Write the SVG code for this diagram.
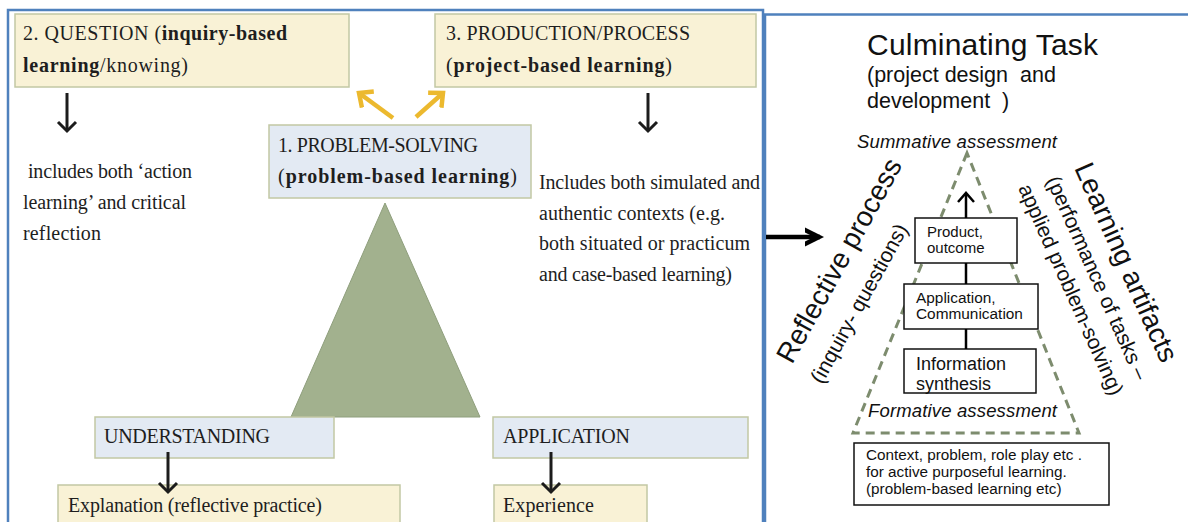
<svg xmlns="http://www.w3.org/2000/svg" width="1188" height="522" viewBox="0 0 1188 522">
<style>
.panel{fill:none;stroke:#4f81bd;stroke-width:2.5}
.cream{fill:#f9f2d6;stroke:#c2c8a4;stroke-width:1.5}
.blue{fill:#e3eaf3;stroke:#c2c8a4;stroke-width:1.5}
.serif{font-family:"Liberation Serif","DejaVu Serif",serif;font-size:20px;fill:#1e1e1e}
.b{font-weight:bold}
.sans{font-family:"Liberation Sans",Arial,sans-serif;fill:#111}
.wbox{fill:#fff;stroke:#111;stroke-width:1.5}
.blk{stroke:#1c1c1c;stroke-width:3;fill:none}
.yel{stroke:#ecb92e;stroke-width:4.5;fill:none}
</style>
<defs>
<marker id="hb" markerUnits="userSpaceOnUse" markerWidth="24" markerHeight="24" refX="12" refY="12" orient="auto">
<path d="M3,3 L12,12 L3,21" fill="none" stroke="#1c1c1c" stroke-width="3"/>
</marker>
<marker id="hy" markerUnits="userSpaceOnUse" markerWidth="24" markerHeight="24" refX="12" refY="12" orient="auto">
<path d="M1,2 L12,12 L1,22" fill="none" stroke="#ecb92e" stroke-width="4.5"/>
</marker>
<marker id="hbig" markerUnits="userSpaceOnUse" markerWidth="30" markerHeight="30" refX="15" refY="15" orient="auto">
<path d="M-8,4 L14,15 L-8,26" fill="none" stroke="#000" stroke-width="4.5"/>
</marker>
<marker id="hs" markerUnits="userSpaceOnUse" markerWidth="20" markerHeight="20" refX="10" refY="10" orient="auto">
<path d="M1,2 L10,10 L1,18" fill="none" stroke="#000" stroke-width="2.5"/>
</marker>
</defs>

<g id="panels">
<rect class="panel" x="8" y="10" width="755" height="530"/>
<rect class="panel" x="765" y="14.5" width="430" height="530"/>
</g>

<g id="triangle">
<polygon points="385,203 291,417 480,417" fill="#a2b18e" stroke="#8e9e7c" stroke-width="1"/>
</g>

<g id="question">
<rect class="cream" x="15" y="14" width="334" height="73"/>
<text class="serif" x="23" y="40" textLength="264">2. QUESTION (<tspan class="b">inquiry-based</tspan></text>
<text class="serif" x="23" y="72" textLength="165"><tspan class="b">learning</tspan>/knowing)</text>
</g>

<g id="production">
<rect class="cream" x="435" y="14" width="321" height="73"/>
<text class="serif" x="446" y="40" textLength="244">3. PRODUCTION/PROCESS</text>
<text class="serif" x="446" y="72" textLength="226">(<tspan class="b">project-based learning</tspan>)</text>
</g>

<g id="problem-solving">
<rect class="blue" x="269" y="125" width="262" height="73"/>
<text class="serif" x="278" y="152" textLength="200">1. PROBLEM-SOLVING</text>
<text class="serif" x="278" y="183" textLength="239">(<tspan class="b">problem-based learning</tspan>)</text>
</g>

<g id="question-note">
<text class="serif" x="28" y="178" textLength="164">includes both ‘action</text>
<text class="serif" x="23" y="209" textLength="163">learning’ and critical</text>
<text class="serif" x="23" y="240" textLength="78">reflection</text>
</g>

<g id="production-note">
<text class="serif" x="539" y="189" textLength="221">Includes both simulated and</text>
<text class="serif" x="539" y="220" textLength="186">authentic contexts (e.g.</text>
<text class="serif" x="539" y="250" textLength="211">both situated or practicum</text>
<text class="serif" x="539" y="281" textLength="193">and case-based learning)</text>
</g>

<g id="understanding">
<rect class="blue" x="95" y="417" width="239" height="41"/>
<text class="serif" x="104" y="443" textLength="166">UNDERSTANDING</text>
</g>

<g id="application">
<rect class="blue" x="493" y="417" width="255" height="41"/>
<text class="serif" x="503" y="443" textLength="127">APPLICATION</text>
</g>

<g id="explanation">
<rect class="cream" x="58" y="485" width="342" height="50"/>
<text class="serif" x="68" y="512" textLength="254">Explanation (reflective practice)</text>
</g>

<g id="experience">
<rect class="cream" x="494" y="485" width="153" height="50"/>
<text class="serif" x="503" y="512" textLength="91">Experience</text>
</g>

<g id="culminating-title">
<text class="sans" x="867" y="55" font-size="30" textLength="231">Culminating Task</text>
<text class="sans" x="867" y="82" font-size="21.5" xml:space="preserve">(project design  and</text>
<text class="sans" x="867" y="108" font-size="21.5" xml:space="preserve">development  )</text>
</g>

<g id="dashed-triangle">
<polygon points="967,153 853,433 1079,433" fill="none" stroke="#7d8c6e" stroke-width="3" stroke-dasharray="9,6"/>
<text class="sans" x="857" y="148" font-size="18.5" font-style="italic" textLength="200">Summative assessment</text>
<text class="sans" x="868" y="417" font-size="18.5" font-style="italic" textLength="189">Formative assessment</text>
</g>

<g id="product">
<rect class="wbox" x="915" y="218" width="102" height="45"/>
<text class="sans" x="927" y="237" font-size="15">Product,</text>
<text class="sans" x="927" y="253" font-size="15">outcome</text>
</g>

<g id="application-communication">
<rect class="wbox" x="904" y="284" width="134" height="45"/>
<text class="sans" x="916" y="303" font-size="15.4">Application,</text>
<text class="sans" x="916" y="319" font-size="15.4">Communication</text>
</g>

<g id="information">
<rect class="wbox" x="904" y="349" width="132" height="44"/>
<text class="sans" x="916" y="370" font-size="18">Information</text>
<text class="sans" x="916" y="390" font-size="18">synthesis</text>
</g>

<g id="context">
<rect class="wbox" x="854" y="443" width="255" height="62"/>
<text class="sans" x="866" y="460" font-size="15.3">Context, problem, role play etc .</text>
<text class="sans" x="866" y="477" font-size="15.3">for active purposeful learning.</text>
<text class="sans" x="866" y="494" font-size="15.3">(problem-based learning etc)</text>
</g>

<g id="reflective">
<text class="sans" font-size="28" transform="translate(792,365) rotate(-61)">Reflective process</text>
<text class="sans" font-size="21" transform="translate(822,385) rotate(-61)">(inquiry- questions)</text>
</g>

<g id="artifacts">
<text class="sans" font-size="28" transform="translate(1074,168) rotate(66)">Learning artifacts</text>
<text class="sans" font-size="21" transform="translate(1046,180) rotate(66)">(performance of tasks –</text>
<text class="sans" font-size="21" transform="translate(1018,188) rotate(66)">applied problem-solving)</text>
</g>

<g id="connectors">
<line class="blk" x1="67" y1="93" x2="67" y2="131" marker-end="url(#hb)"/>
<line class="blk" x1="648" y1="93" x2="648" y2="131" marker-end="url(#hb)"/>
<line class="yel" x1="393" y1="118" x2="359" y2="93" marker-end="url(#hy)"/>
<line class="yel" x1="416" y1="117" x2="443" y2="93" marker-end="url(#hy)"/>
<line class="blk" x1="168" y1="452" x2="168" y2="492" marker-end="url(#hb)"/>
<line class="blk" x1="551" y1="452" x2="551" y2="492" marker-end="url(#hb)"/>
<line x1="766" y1="237" x2="820" y2="237" stroke="#000" stroke-width="4.5" marker-end="url(#hbig)"/>
<line x1="966" y1="349" x2="966" y2="329" stroke="#000" stroke-width="2.5"/>
<line x1="966" y1="284" x2="966" y2="263" stroke="#000" stroke-width="2.5"/>
<line x1="966" y1="218" x2="966" y2="193" stroke="#000" stroke-width="2.5" marker-end="url(#hs)"/>
</g>
</svg>
